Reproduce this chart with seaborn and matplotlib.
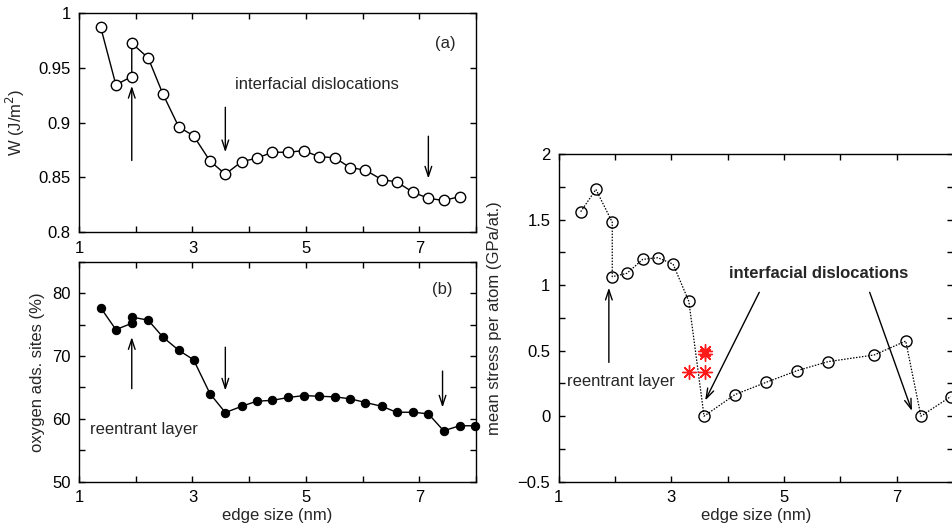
import matplotlib
matplotlib.use('Agg')
import matplotlib.pyplot as plt
import seaborn as sns
import pandas as pd
from matplotlib.ticker import FixedLocator, FixedFormatter

# ---------------- data ----------------
edge_a = [1.38, 1.65, 1.93, 1.93, 2.22, 2.48, 2.76, 3.02, 3.31, 3.58, 3.87, 4.13, 4.41,
          4.69, 4.96, 5.23, 5.51, 5.78, 6.05, 6.34, 6.60, 6.89, 7.16, 7.43, 7.71]
w_adh = [0.9875, 0.9345, 0.942, 0.9725, 0.959, 0.926, 0.896, 0.888, 0.865, 0.853, 0.8645,
         0.8675, 0.873, 0.873, 0.8745, 0.869, 0.868, 0.859, 0.8567, 0.848, 0.846, 0.8365,
         0.831, 0.829, 0.8325]

edge_b = [1.38, 1.65, 1.93, 1.93, 2.22, 2.48, 2.76, 3.02, 3.31, 3.58, 3.87, 4.13, 4.41,
          4.69, 4.96, 5.23, 5.51, 5.78, 6.05, 6.34, 6.60, 6.89, 7.16, 7.43, 7.71, 7.99]
oxygen = [77.7, 74.2, 75.2, 76.2, 75.7, 73.0, 70.9, 69.4, 64.0, 61.0, 62.0, 62.8, 62.95,
          63.4, 63.7, 63.6, 63.5, 63.2, 62.6, 62.0, 61.05, 61.05, 60.8, 58.1, 58.9, 58.9]

edge_c = [1.39, 1.66, 1.95, 1.95, 2.21, 2.49, 2.76, 3.03, 3.31, 3.58, 4.13, 4.68, 5.23,
          5.78, 6.60, 7.16, 7.43, 7.96]
stress = [1.56, 1.73, 1.48, 1.064, 1.09, 1.196, 1.209, 1.16, 0.876, 0.0, 0.165, 0.258,
          0.347, 0.416, 0.467, 0.573, 0.0, 0.15]

star_edge = [3.32, 3.59, 3.59, 3.59]
star_stress = [0.335, 0.335, 0.472, 0.495]

x_ticks = [1, 2, 3, 4, 5, 6, 7, 8]
x_labels = ['1', '', '3', '', '5', '', '7', '']
a_yticks = [0.8, 0.85, 0.9, 0.95, 1.0]
a_ylabels = ['0.8', '0.85', '0.9', '0.95', '1']
b_yticks = [50, 55, 60, 65, 70, 75, 80, 85]
b_ylabels = ['50', '', '60', '', '70', '', '80', '']
c_yticks = [-0.5, -0.25, 0, 0.25, 0.5, 0.75, 1.0, 1.25, 1.5, 1.75, 2.0]
c_ylabels = ['\u22120.5', '', '0', '', '0.5', '', '1', '', '1.5', '', '2']

# ---------------- style ----------------
sns.set_theme(style='ticks')
plt.rcParams['font.family'] = ['Liberation Sans', 'DejaVu Sans']
FS = 12
plt.rcParams['font.size'] = FS

fig = plt.figure(figsize=(9.52, 5.30), dpi=100)
ax_a = fig.add_axes([0.0830, 0.5617, 0.4170, 0.4138])
ax_b = fig.add_axes([0.0830, 0.0911, 0.4170, 0.4151])
ax_c = fig.add_axes([0.5869, 0.0911, 0.4142, 0.6183])


def style_axes(ax, xlim, ylim, yt, yl):
    ax.set_xlim(*xlim)
    ax.set_ylim(*ylim)
    ax.xaxis.set_major_locator(FixedLocator(x_ticks))
    ax.xaxis.set_major_formatter(FixedFormatter(x_labels))
    ax.yaxis.set_major_locator(FixedLocator(yt))
    ax.yaxis.set_major_formatter(FixedFormatter(yl))
    ax.tick_params(direction='in', length=4, width=1.0, top=True, right=True,
                   labelsize=FS, colors='black', pad=6)
    for s in ax.spines.values():
        s.set_visible(True)
        s.set_linewidth(1.0)
        s.set_color('black')
    ax.set_facecolor('white')
    ax.grid(False)


def arrow(ax, x0, y0, x1, y1):
    ax.annotate('', xy=(x1, y1), xytext=(x0, y0),
                arrowprops=dict(arrowstyle='->,head_length=0.6,head_width=0.2',
                                color='black', lw=1.0, shrinkA=0, shrinkB=0))


# ---- panel (a) ----
df_a = pd.DataFrame({'edge': edge_a, 'W': w_adh})
sns.lineplot(data=df_a, x='edge', y='W', sort=False, estimator=None, ax=ax_a,
             color='black', lw=1.0, marker='o', markersize=7.5,
             markerfacecolor='white', markeredgecolor='black', markeredgewidth=1.0)
style_axes(ax_a, (1, 8), (0.8, 1.0), a_yticks, a_ylabels)
ax_a.set_xlabel('')
ax_a.set_ylabel('W (J/m$^2$)', fontsize=FS)
ax_a.yaxis.set_label_coords(-0.13, 0.5)
ax_a.text(5.2, 0.9345, 'interfacial dislocations', fontsize=FS, ha='center', va='center')
ax_a.text(7.46, 0.9725, '(a)', fontsize=FS, ha='center', va='center')
arrow(ax_a, 1.93, 0.8655, 1.93, 0.9335)
arrow(ax_a, 3.58, 0.914, 3.58, 0.873)
arrow(ax_a, 7.16, 0.8876, 7.16, 0.849)

# ---- panel (b) ----
df_b = pd.DataFrame({'edge': edge_b, 'O': oxygen})
sns.lineplot(data=df_b, x='edge', y='O', sort=False, estimator=None, ax=ax_b,
             color='black', lw=1.0, marker='o', markersize=6,
             markerfacecolor='black', markeredgecolor='black', clip_on=False)
style_axes(ax_b, (1, 8), (50, 85), b_yticks, b_ylabels)
ax_b.set_xlabel('edge size (nm)', fontsize=FS)
ax_b.set_ylabel('oxygen ads. sites (%)', fontsize=FS)
ax_b.yaxis.set_label_coords(-0.085, 0.5)
ax_b.xaxis.set_label_coords(0.5, -0.12)
ax_b.text(2.14, 58.3, 'reentrant layer', fontsize=FS, ha='center', va='center')
ax_b.text(7.41, 80.6, '(b)', fontsize=FS, ha='center', va='center')
arrow(ax_b, 1.93, 64.8, 1.93, 73.0)
arrow(ax_b, 3.58, 71.4, 3.58, 64.5)
arrow(ax_b, 7.41, 67.6, 7.41, 61.8)

# ---- right panel ----
df_c = pd.DataFrame({'edge': edge_c, 'stress': stress})
sns.lineplot(data=df_c, x='edge', y='stress', sort=False, estimator=None, ax=ax_c,
             color='black', lw=0.9, linestyle=(0, (1.2, 1.2)), marker='o', markersize=8,
             markerfacecolor='none', markeredgecolor='black', markeredgewidth=1.0,
             clip_on=False)
df_s = pd.DataFrame({'edge': star_edge, 'stress': star_stress})
sns.scatterplot(data=df_s, x='edge', y='stress', ax=ax_c, marker=(8, 2, 0), s=100,
                color='#ff1a1a', linewidth=1.0, edgecolor='#ff1a1a', zorder=5)
style_axes(ax_c, (1, 8), (-0.5, 2.0), c_yticks, c_ylabels)
ax_c.set_xlabel('edge size (nm)', fontsize=FS)
ax_c.set_ylabel('mean stress per atom (GPa/at.)', fontsize=FS)
ax_c.yaxis.set_label_coords(-0.145, 0.5)
ax_c.xaxis.set_label_coords(0.5, -0.08)
ax_c.text(2.1, 0.263, 'reentrant layer', fontsize=FS, ha='center', va='center')
ax_c.text(5.61, 1.09, 'interfacial dislocations', fontsize=FS, fontweight='bold',
          ha='center', va='center')
arrow(ax_c, 1.89, 0.41, 1.89, 0.98)
arrow(ax_c, 4.56, 0.945, 3.60, 0.12)
arrow(ax_c, 6.52, 0.945, 7.27, 0.04)

fig.savefig('out.png', dpi=100, facecolor='white')
